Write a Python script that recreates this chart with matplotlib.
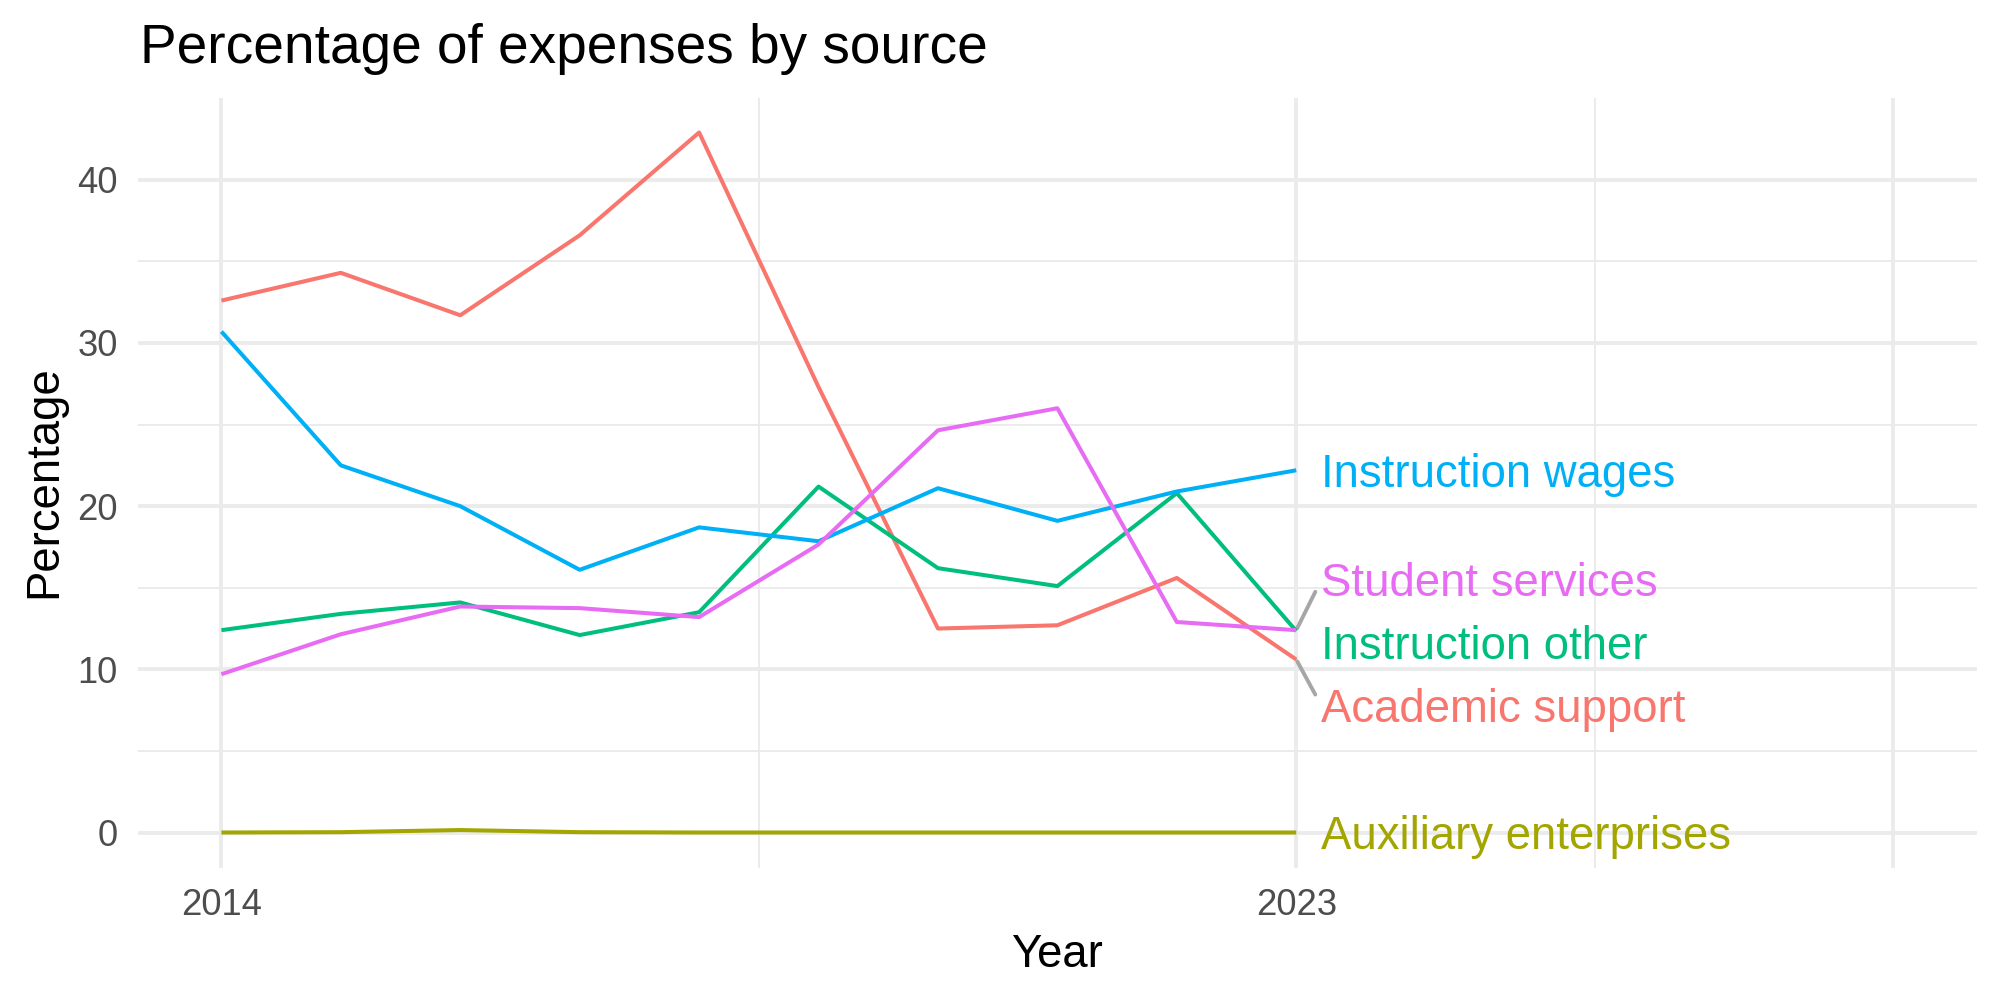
import matplotlib
matplotlib.use("Agg")
import matplotlib.pyplot as plt
from matplotlib.ticker import FixedLocator
import numpy as np

plt.rcParams['font.family'] = ['Liberation Sans', 'DejaVu Sans']

# ---- data ----
years = [2014, 2015, 2016, 2017, 2018, 2019, 2020, 2021, 2022, 2023]
academic_support = [32.6, 34.3, 31.7, 36.6, 42.9, 27.3, 12.5, 12.7, 15.6, 10.6]
auxiliary_enterprises = [0.0, 0.02, 0.15, 0.02, 0.0, 0.0, 0.0, 0.0, 0.0, 0.0]
instruction_other = [12.4, 13.4, 14.1, 12.1, 13.5, 21.2, 16.2, 15.1, 20.8, 12.35]
instruction_wages = [30.7, 22.5, 20.0, 16.1, 18.7, 17.85, 21.1, 19.1, 20.9, 22.2]
student_services = [9.7, 12.15, 13.85, 13.75, 13.2, 17.65, 24.65, 26.0, 12.9, 12.4]

series_names = ["Academic support", "Auxiliary enterprises", "Instruction other",
                "Instruction wages", "Student services"]
series_values = [academic_support, auxiliary_enterprises, instruction_other,
                 instruction_wages, student_services]
colors = ["#F8766D", "#A3A500", "#00BF7D", "#00B0F6", "#E76BF3"]

x_breaks = [2014, 2023, 2028]
x_labels = ["2014", "2023", ""]
x_minor = [2018.5, 2025.5]
y_breaks = [0, 10, 20, 30, 40]
y_minor = [5, 15, 25, 35]

# ---- figure ----
fig = plt.figure(figsize=(10, 5), dpi=200)
ax = fig.add_axes([137.8 / 2000, 1 - 867.5 / 1000, (1977 - 137.8) / 2000, (867.5 - 97.5) / 1000])

grid_col = "#EBEBEB"
ax.set_xlim(2013.3, 2028.7)
ymax = max(max(v) for v in series_values)
ax.set_ylim(-0.05 * ymax, ymax * 1.05)

ax.xaxis.set_major_locator(FixedLocator(x_breaks))
ax.xaxis.set_minor_locator(FixedLocator(x_minor))
ax.yaxis.set_major_locator(FixedLocator(y_breaks))
ax.yaxis.set_minor_locator(FixedLocator(y_minor))
ax.set_xticklabels(x_labels)
ax.set_yticklabels([str(v) for v in y_breaks])
ax.grid(True, which="major", color=grid_col, linewidth=1.4)
ax.grid(True, which="minor", color=grid_col, linewidth=0.7)
ax.set_axisbelow(True)
for s in ax.spines.values():
    s.set_visible(False)
ax.tick_params(which="both", length=0)
ax.tick_params(axis="both", which="major", labelsize=13.1, labelcolor="#4D4D4D", pad=7.3)

for name, vals, col in zip(series_names, series_values, colors):
    ax.plot(years, vals, color=col, linewidth=1.45, solid_capstyle="butt",
            solid_joinstyle="round", zorder=3)

# ---- end labels with a simple vertical repel ----
ends = [v[-1] for v in series_values]
order = np.argsort(ends)[::-1]
gap = 3.86
clusters = []
for i in order:
    if clusters and clusters[-1]["low"] - ends[i] < gap:
        clusters[-1]["members"].append(i)
    else:
        clusters.append({"members": [i]})
    m = clusters[-1]["members"]
    mean = np.mean([ends[j] for j in m])
    clusters[-1]["low"] = mean - gap * (len(m) - 1) / 2
pos = {}
for c in clusters:
    m = c["members"]
    if len(m) == 1:
        pos[m[0]] = ends[m[0]]
        continue
    mean = np.mean([ends[j] for j in m]) - 0.15
    for k, j in enumerate(m):
        pos[j] = mean + gap * ((len(m) - 1) / 2 - k)

label_x = 2023.21
cap_half = 1.0
for j, (name, col) in enumerate(zip(series_names, colors)):
    ly = pos[j]
    ax.text(label_x, ly - cap_half, name, color=col, fontsize=16.4,
            ha="left", va="baseline", zorder=4)
    if abs(ly - ends[j]) > 1.5:
        x0, y0 = years[-1], ends[j]
        f0, f1 = 0.04, 0.76
        ax.plot([x0 + (label_x - x0) * f0, x0 + (label_x - x0) * f1],
                [y0 + (ly - y0) * f0, y0 + (ly - y0) * f1],
                color="#A6A6A6", linewidth=1.4, solid_capstyle="round", zorder=2)

# ---- titles ----
fig.text(140 / 2000, 1 - 63.3 / 1000, "Percentage of expenses by source",
         fontsize=19.8, color="black", ha="left", va="baseline")
fig.text(1057.4 / 2000, 1 - 966.7 / 1000, "Year", fontsize=16.4, color="black",
         ha="center", va="baseline")
fig.text(56 / 2000, 1 - 482 / 1000, "Percentage", fontsize=16.4, color="black",
         rotation=90, rotation_mode="anchor", ha="center", va="baseline")

fig.savefig("out.png", dpi=200, facecolor="white")
